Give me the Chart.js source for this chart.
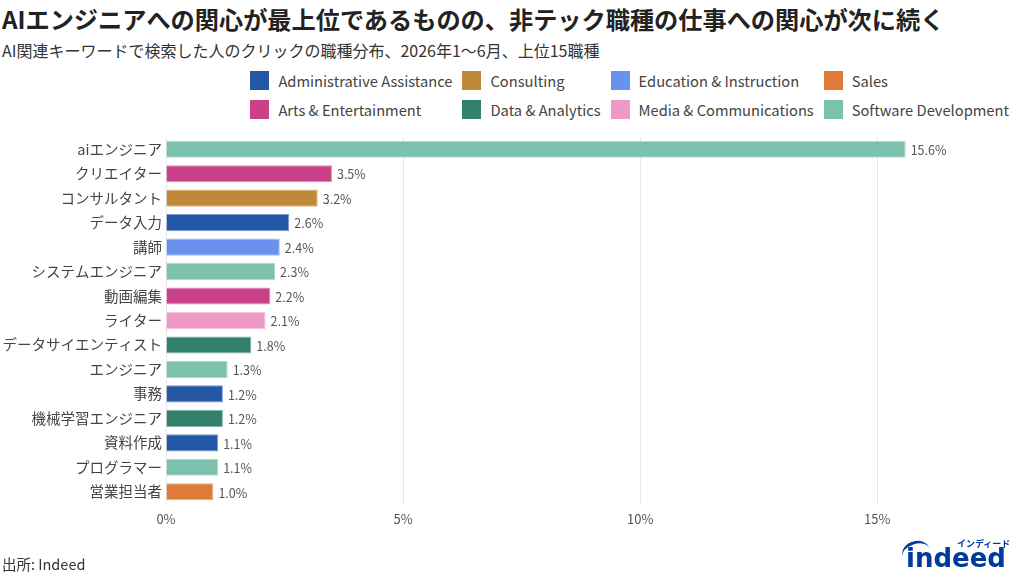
<!DOCTYPE html>
<html lang="ja">
<head>
<meta charset="utf-8">
<script src="https://cdn.jsdelivr.net/npm/chart.js@4"></script>
<style>
  html, body { margin: 0; padding: 0; background: #fff; }
  body { width: 1024px; height: 585px; position: relative; overflow: hidden; font-family: "Noto Sans CJK JP", "Noto Sans", sans-serif; }
  #chart { position: absolute; left: 0; top: 0; }
  .title { position: absolute; left: 2px; top: 1px; font-size: 24.2px; font-weight: 700; color: #222; white-space: nowrap; }
  .sub { position: absolute; left: 2px; top: 38px; font-size: 16px; color: #333; white-space: nowrap; }
  #legend { position: absolute; right: 15px; top: 69px; display: grid; grid-template-columns: auto auto auto auto; column-gap: 10px; row-gap: 7px; }
  .li { display: flex; align-items: center; font-size: 14.7px; color: #444; white-space: nowrap; height: 22px; }
  .li i { display: inline-block; width: 19px; height: 19px; margin-right: 9px; }
  .src { position: absolute; left: 2px; top: 553px; font-size: 14.5px; color: #333; }
  .logo-w { position: absolute; left: 906px; top: 545px; line-height: 26px; color: #003a9b; font-family: "DejaVu Sans", sans-serif; font-weight: 700; font-size: 26px; }
  .logo-k { position: absolute; left: 957px; top: 539px; line-height: 10px; color: #003a9b; font-size: 9px; font-weight: 700; }
  .logo-arc { position: absolute; left: 902px; top: 541px; width: 28px; height: 20px; border-top: 3px solid #003a9b; border-radius: 50%; transform: rotate(-18deg); }
</style>
</head>
<body>
<div class="title">AIエンジニアへの関心が最上位であるものの、非テック職種の仕事への関心が次に続く</div>
<div class="sub">AI関連キーワードで検索した人のクリックの職種分布、2026年1〜6月、上位15職種</div>
<div id="legend"></div>
<canvas id="chart" width="1024" height="585"></canvas>
<div class="src">出所: Indeed</div>
<div class="logo-arc"></div><div class="logo-w">indeed</div><div class="logo-k">インディード</div>
<script>
'use strict';

// ── DATA ──
const jobs = ['aiエンジニア', 'クリエイター', 'コンサルタント', 'データ入力', '講師', 'システムエンジニア', '動画編集', 'ライター',
  'データサイエンティスト', 'エンジニア', '事務', '機械学習エンジニア', '資料作成', 'プログラマー', '営業担当者'];
const shares = [15.6, 3.5, 3.2, 2.6, 2.4, 2.3, 2.2, 2.1, 1.8, 1.3, 1.2, 1.2, 1.1, 1.1, 1.0];
const jobCategory = ['Software Development', 'Arts & Entertainment', 'Consulting', 'Administrative Assistance',
  'Education & Instruction', 'Software Development', 'Arts & Entertainment', 'Media & Communications',
  'Data & Analytics', 'Software Development', 'Administrative Assistance', 'Data & Analytics',
  'Administrative Assistance', 'Software Development', 'Sales'];
// legend order (row by row)
const categories = ['Administrative Assistance', 'Consulting', 'Education & Instruction', 'Sales',
  'Arts & Entertainment', 'Data & Analytics', 'Media & Communications', 'Software Development'];
const categoryColors = ['#2457a5', '#c0893a', '#6892ee', '#e07a3a', '#c94289', '#33806d', '#ee9ac4', '#7cc1ad'];
const xTicks = [0, 5, 10, 15];

const FONT = "'Noto Sans CJK JP', 'Noto Sans', sans-serif";
const colorOf = c => categoryColors[categories.indexOf(c)];

function lighten(hex, t) {
  const n = parseInt(hex.slice(1), 16);
  const r = n >> 16, g = (n >> 8) & 255, b = n & 255;
  const m = v => Math.round(v + (255 - v) * t);
  return `rgb(${m(r)},${m(g)},${m(b)})`;
}

// ── LEGEND (html grid) ──
const legend = document.getElementById('legend');
categories.forEach((c, i) => {
  const el = document.createElement('div');
  el.className = 'li';
  el.innerHTML = `<i style="background:${categoryColors[i]}"></i>${c}`;
  legend.appendChild(el);
});

// ── VALUE LABELS ──
const valueLabels = {
  id: 'valueLabels',
  afterDatasetsDraw(chart) {
    const { ctx } = chart;
    const meta = chart.getDatasetMeta(0);
    ctx.save();
    ctx.font = `12.5px ${FONT}`;
    ctx.fillStyle = '#555';
    ctx.textBaseline = 'middle';
    meta.data.forEach((bar, i) => {
      ctx.fillText(shares[i].toFixed(1) + '%', bar.x + 5, bar.y + 1);
    });
    ctx.restore();
  }
};

new Chart(document.getElementById('chart'), {
  type: 'bar',
  data: {
    labels: jobs,
    datasets: [{
      data: shares,
      backgroundColor: jobCategory.map(colorOf),
      borderColor: jobCategory.map(c => lighten(colorOf(c), 0.4)),
      borderWidth: 1,
      borderSkipped: 'left',
      barPercentage: 0.7,
      categoryPercentage: 1
    }]
  },
  options: {
    indexAxis: 'y',
    responsive: false,
    animation: false,
    layout: { padding: { top: 137, right: 14, bottom: 50, left: 0 } },
    plugins: { legend: { display: false }, tooltip: { enabled: false } },
    scales: {
      x: {
        min: 0, max: 17.8,
        afterBuildTicks: s => { s.ticks = xTicks.map(v => ({ value: v })); },
        afterFit: s => { s.height = 31; },
        ticks: { color: '#555', font: { family: FONT, size: 13 }, padding: 7, callback: v => v + '%' },
        grid: { color: '#e6e6e6', drawTicks: false },
        border: { display: false }
      },
      y: {
        afterFit: s => { s.width = 166; },
        ticks: { color: '#444', font: { family: FONT, size: 14.5 }, padding: 4, autoSkip: false },
        grid: { display: false, drawTicks: false },
        border: { display: false }
      }
    }
  },
  plugins: [valueLabels]
});
</script>
</body>
</html>
